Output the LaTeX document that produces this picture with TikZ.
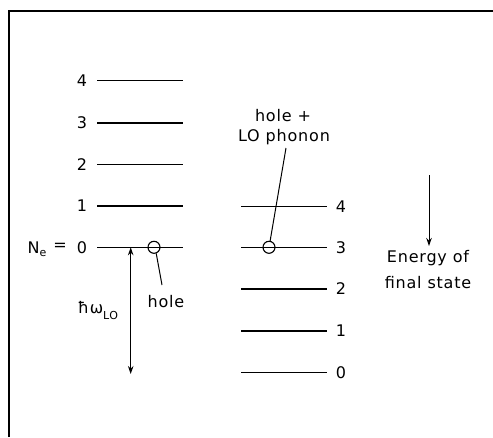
\documentclass[tikz,border=0pt]{standalone}
\usepackage{fontspec}
\setmainfont[LetterSpace=5]{DejaVu Sans}
\usetikzlibrary{arrows.meta}
\begin{document}
\begin{tikzpicture}[x=1pt,y=-1pt,
  lvl/.style={line width=1.2pt},
  lab/.style={font=\fontsize{16}{18}\selectfont, inner sep=0pt},
  conn/.style={line width=1pt},
  circ/.style={circle, draw, line width=1.1pt, minimum size=12pt, inner sep=0pt}]
\useasboundingbox (0,0) rectangle (493,437);
\draw[line width=1.3pt] (9,437) -- (9,11) -- (493,11);
% left ladder
\foreach \n/\y in {4/80.7,3/123,2/164.5,1/206,0/247.3}{
  \coordinate (La\n) at (97,\y);
  \coordinate (Lb\n) at (183,\y);
  \draw[lvl] (La\n) -- (Lb\n);
  \node[lab] (Ln\n) at (82,\y) {\n};
}
\node[lab] (Ne) at (37,249) {N\raisebox{-3pt}{\fontsize{11}{12}\selectfont e}};
\node[lab] (eq) at (60,247.3) {=};
% right ladder
\foreach \n/\y in {4/206.7,3/247.3,2/289,1/331,0/372.7}{
  \coordinate (Ra\n) at (241,\y);
  \coordinate (Rb\n) at (327,\y);
  \draw[lvl] (Ra\n) -- (Rb\n);
  \node[lab] (Rn\n) at (341,\y) {\n};
}
% hole on left
\node[circ] (hl) at (154,247.3) {};
\coordinate (hlend) at (162,285);
\draw[conn] (hl.-70) -- (hlend);
\node[lab] (holetxt) at (166,302) {hole};
% hbar omega arrow
\coordinate (wtop) at (130.7,247.3);
\coordinate (wbot) at (130.7,374);
\draw[conn, {Stealth[length=8pt,width=5.5pt]}-{Stealth[length=8pt,width=5.5pt]}] (wtop) -- (wbot);
\node[lab] (hw) at (98,310) {ħω\raisebox{-6pt}{\fontsize{11}{12}\selectfont LO}};
% right hole
\node[circ] (hr) at (269,247.3) {};
\coordinate (hrend) at (286,148);
\draw[conn] (hr.80) -- (hrend);
\node[lab] (t1) at (283,116) {hole +};
\node[lab] (t2) at (284,137) {LO phonon};
% energy arrow
\coordinate (ea) at (429,175);
\coordinate (eb) at (429,246);
\draw[conn, -{Stealth[length=8pt,width=5.5pt]}] (ea) -- (eb);
\node[lab] (e1) at (428,258) {Energy of};
\node[lab] (e2) at (428,283) {final state};
\end{tikzpicture}
\end{document}
